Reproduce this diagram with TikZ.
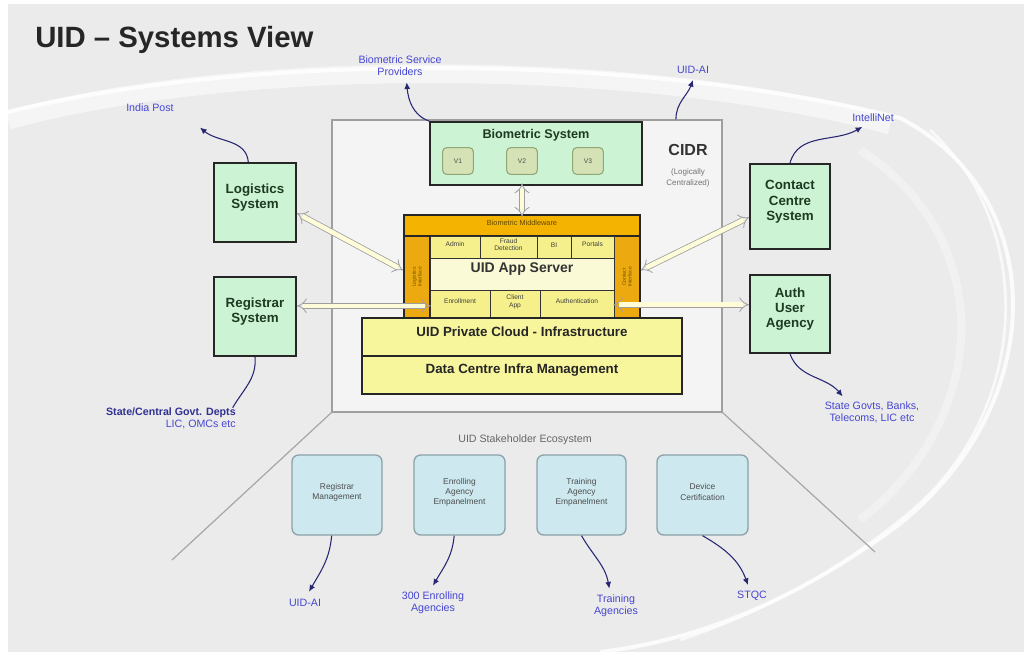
\documentclass[tikz,border=0pt]{standalone}
\usepackage{fontspec}
\setmainfont{Liberation Sans}
\usetikzlibrary{arrows.meta,fit,calc}
\definecolor{bgGray}{HTML}{EBEBEB}
\definecolor{cidrFill}{HTML}{F4F4F4}
\definecolor{mint}{HTML}{CCF3D3}
\definecolor{darkGreen}{HTML}{1E3A22}
\definecolor{vFill}{HTML}{D5E2B5}
\definecolor{vDraw}{HTML}{8FA676}
\definecolor{orangeA}{HTML}{F3B300}
\definecolor{orangeB}{HTML}{EDAA10}
\definecolor{cellYel}{HTML}{F5F08C}
\definecolor{appYel}{HTML}{FBFAD6}
\definecolor{infraYel}{HTML}{F8F69C}
\definecolor{lblue}{HTML}{CDE9EF}
\definecolor{lbDraw}{HTML}{8AA2A8}
\definecolor{linkBlue}{HTML}{4646D2}
\tikzset{
  gbox/.style={draw=black!85, line width=1.4pt, fill=mint, inner sep=0pt,
    font=\fontsize{10}{11.5}\selectfont\bfseries, text=darkGreen, align=center},
  vbox/.style={draw=vDraw, line width=0.8pt, fill=vFill, rounded corners=3pt,
    minimum width=23pt, minimum height=20pt, font=\fontsize{5}{6}\selectfont, text=black!70},
  obox/.style={draw=black!85, line width=1.2pt, fill=orangeA, inner sep=0pt,
    font=\fontsize{5}{6}\selectfont, text=black!60!orangeA, align=center},
  cell/.style={draw=black!80, line width=0.6pt, fill=cellYel, inner sep=0pt,
    font=\fontsize{5}{5.8}\selectfont, text=black!75, align=center},
  ybox/.style={draw=black!85, line width=1.3pt, fill=infraYel, inner sep=0pt,
    font=\fontsize{10}{12}\selectfont\bfseries, text=black!85},
  bbox/.style={draw=lbDraw, line width=1pt, fill=lblue, rounded corners=5pt, inner sep=0pt,
    font=\fontsize{6.3}{7.6}\selectfont, text=black!70, align=center},
  lbl/.style={font=\fontsize{8}{9.2}\selectfont, text=linkBlue, align=center, inner sep=1.5pt},
  lead/.style={draw=black!45!linkBlue, line width=0.8pt, -{Latex[length=5pt,width=4.5pt]}},
  leadn/.style={draw=black!45!linkBlue, line width=0.8pt},
  hollow/.style={draw=gray!75, line width=0.6pt, double=white!85!yellow, double distance=3.4pt,
    {Implies[length=4pt]}-{Implies[length=4pt]}},
  wing/.style={draw=gray!70, line width=0.9pt}
}
\begin{document}
\begin{tikzpicture}[x=0.75pt,y=-0.75pt]
\useasboundingbox (0,0) rectangle (1026,658);
\fill[white] (0,0) rectangle (1026,658);
\fill[bgGray] (8,4) rectangle (1024,652);
% background swooshes
\draw[white, line width=14pt, opacity=0.55] (8,120) .. controls (250,55) and (650,60) .. (890,125);
\draw[white, line width=3pt, opacity=0.8] (8,112) .. controls (260,50) and (650,55) .. (900,118)
  .. controls (1060,200) and (1050,430) .. (870,545) .. controls (790,600) and (700,640) .. (600,652);
\draw[white, line width=2pt, opacity=0.7] (930,130) .. controls (1040,230) and (1030,420) .. (900,520)
  .. controls (820,585) and (740,620) .. (680,640);
\draw[white, line width=6pt, opacity=0.35] (860,150) .. controls (1000,240) and (990,420) .. (860,520);

% title
\node[anchor=west, font=\fontsize{22}{24}\selectfont\bfseries, text=black!85, inner sep=0pt] (title) at (35,40) {UID -- Systems View};

% CIDR box
\node[draw=gray!75, line width=0.9pt, fill=cidrFill, inner sep=0pt, fit={(332,120) (722,412)}] (cidr) {};
\node[font=\fontsize{12}{14}\selectfont\bfseries, text=black!80] (cidrt) at (688,150) {CIDR};
\node[font=\fontsize{6}{8}\selectfont, text=black!55, align=center] (cidrs) at (688,178) {(Logically\\Centralized)};

% biometric system
\node[gbox, fit={(430,122) (642,185)}] (bio) {};
\node[font=\fontsize{9.5}{11}\selectfont\bfseries, text=darkGreen] (biot) at (536,135) {Biometric System};
\node[vbox] (v1) at (458,161) {V1};
\node[vbox] (v2) at (522,161) {V2};
\node[vbox] (v3) at (588,161) {V3};

% app server block
\node[obox, fit={(404,215) (640,236)}, font=\fontsize{5.5}{6}\selectfont] (mw) {Biometric Middleware};
\node[obox, fill=orangeB, fit={(404,236) (430,318)}] (lcol) {};
\node[obox, fill=orangeB, fit={(614,236) (640,318)}] (rcol) {};
\node[rotate=90, font=\fontsize{3.8}{4.4}\selectfont, text=black!55!orangeA, align=center] (lcolt) at (lcol.center) {Logistics\\Interface};
\node[rotate=90, font=\fontsize{3.8}{4.4}\selectfont, text=black!55!orangeA, align=center] (rcolt) at (rcol.center) {Contact\\Interface};
\node[cell, fit={(430,236) (480,258)}] (admin) {Admin};
\node[cell, fit={(480,236) (537,258)}] (fraud) {Fraud\\Detection};
\node[cell, fit={(537,236) (571,258)}] (bi) {BI};
\node[cell, fit={(571,236) (614,258)}] (portals) {Portals};
\node[cell, fill=appYel, fit={(430,258) (614,290)}, font=\fontsize{10.5}{12}\selectfont\bfseries, text=black!80] (app) {UID App Server};
\node[cell, fit={(430,290) (490,318)}] (enrol) {Enrollment};
\node[cell, fit={(490,290) (540,318)}] (client) {Client\\App};
\node[cell, fit={(540,290) (614,318)}] (authc) {Authentication};
\draw[black!85, line width=1.2pt] (404,215) rectangle (640,318);

% infrastructure
\node[ybox, fit={(362,318) (682,356)}] (cloud) {UID Private Cloud - Infrastructure};
\node[ybox, fit={(362,356) (682,394)}] (dc) {Data Centre Infra Management};

% side systems
\node[gbox, fit={(214,163) (296,242)}] (log) {Logistics\\System};
\node[gbox, fit={(214,277) (296,356)}] (reg) {Registrar\\System};
\node[gbox, fit={(750,164) (830,249)}] (cc) {Contact\\Centre\\System};
\node[gbox, fit={(750,275) (830,353)}] (auth) {Auth\\User\\Agency};

% hollow arrows
\draw[hollow] ([yshift=2pt]v2 |- bio.south) -- ([yshift=-2pt]v2 |- mw.north);
\draw[hollow] ([yshift=-8pt]log.east) -- ([yshift=5pt]lcol.west);
\coordinate (rA) at ([yshift=8pt]reg.east);
\draw[hollow] (rA) -- (rA -| lcol.east);
\draw[hollow] ([yshift=-8pt]cc.west) -- ([yshift=5pt]rcol.east);
\coordinate (aA) at ([yshift=7pt]auth.west);
\draw[hollow] (aA) -- (aA -| rcol.west);

% external labels (top)
\node[lbl] (lIndia) at (150,108) {India Post};
\node[lbl] (lBSP) at (400,66) {Biometric Service\\Providers};
\node[lbl] (lUIDt) at (693,70) {UID-AI};
\node[lbl] (lIntel) at (873,118) {IntelliNet};
\node[lbl, align=right, anchor=east] (lState) at (238,418) {\textbf{\color{black!30!linkBlue}State/Central Govt. Depts}\\LIC, OMCs etc};
\node[lbl] (lGovts) at (872,412) {State Govts, Banks,\\Telecoms, LIC etc};

\draw[lead] ([xshift=-5pt]log.north) to[out=95,in=-40] ([xshift=18pt,yshift=-10pt]lIndia.south east);
\draw[lead] (bio.north west) to[out=160,in=-85] ([xshift=5pt,yshift=-3pt]lBSP.south);
\draw[lead] ([xshift=-35pt]cidr.north east) to[out=90,in=-110] ([yshift=-3pt]lUIDt.south);
\draw[lead] (cc.north) to[out=75,in=-150] ([xshift=-8pt,yshift=-2pt]lIntel.south);
\draw[leadn] (reg.south) to[out=-85,in=60] ([xshift=-4pt,yshift=-2pt]lState.north east);
\draw[lead] (auth.south) to[out=-70,in=130] ([xshift=-22pt,yshift=2pt]lGovts.north);

% wings to ecosystem
\coordinate (wl) at (172,560);
\coordinate (wr) at (875,552);
\draw[wing] (cidr.south west) -- (wl);
\draw[wing] (cidr.south east) -- (wr);

% stakeholder ecosystem
\node[font=\fontsize{8}{9}\selectfont, text=black!60] (eco) at (525,440) {UID Stakeholder Ecosystem};
\node[bbox, fit={(292,455) (382,535)}] (rm) {Registrar\\Management};
\node[bbox, fit={(414,455) (505,535)}] (ea) {Enrolling\\Agency\\Empanelment};
\node[bbox, fit={(537,455) (626,535)}] (ta) {Training\\Agency\\Empanelment};
\node[bbox, fit={(657,455) (748,535)}] (devc) {Device\\Certification};

\node[lbl] (lUIDb) at (305,603) {UID-AI};
\node[lbl] (l300) at (433,603) {300 Enrolling\\Agencies};
\node[lbl] (lTrain) at (616,606) {Training\\Agencies};
\node[lbl] (lSTQC) at (752,596) {STQC};

\draw[lead] ([xshift=-4pt]rm.south) to[out=-95,in=60] ([xshift=3pt,yshift=4pt]lUIDb.north);
\draw[lead] ([xshift=-4pt]ea.south) to[out=-95,in=60] ([yshift=3pt]l300.north);
\draw[lead] (ta.south) to[out=-60,in=100] ([xshift=-5pt,yshift=3pt]lTrain.north);
\draw[lead] (devc.south) to[out=-30,in=110] ([xshift=-3pt,yshift=3pt]lSTQC.north);
\end{tikzpicture}
\end{document}
